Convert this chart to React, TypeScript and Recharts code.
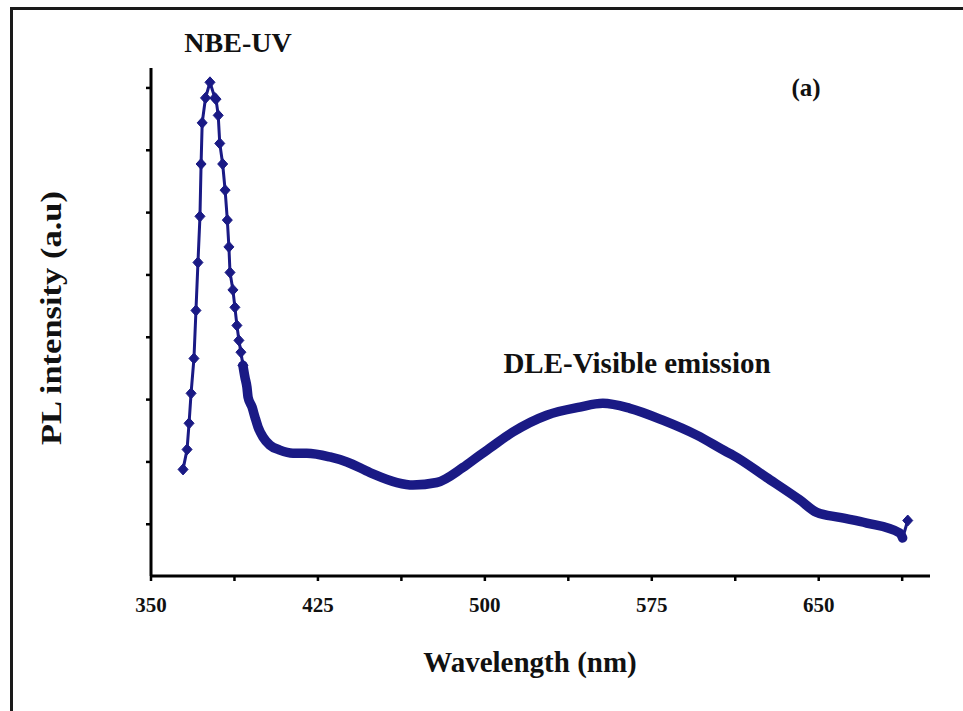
import React from 'react';
import { LineChart, Line, XAxis, YAxis } from 'recharts';

// UV (near-band-edge) peak, read point by point (nm, a.u.)
const uvWavelength = [364.4, 366.2, 367.1, 368.0, 369.3, 370.2, 371.1, 372.0, 372.5, 373.0, 374.5, 376.5, 378.7, 379.2, 380.2, 380.9, 382.2, 383.3, 384.3, 385.0, 385.5, 386.8, 387.7, 388.6, 389.5, 390.4, 391.3];
const uvIntensity = [188, 220, 262, 310, 366, 443, 520, 594, 678, 744, 784, 809, 784, 782, 756, 711, 678, 636, 588, 545, 504, 476, 448, 419, 395, 376, 355];

// Dense visible (defect-level) emission band
const visWavelength = [391.3, 392.2, 393.1, 393.6, 395.4, 396.7, 398.1, 400.3, 403.4, 407.9, 413.8, 420.0, 430.4, 438.0, 448.4, 460.5, 467.7, 478.4, 490.1, 497.8, 502.2, 512.6, 527.8, 542.7, 553.0, 565.1, 579.9, 595.2, 608.7, 611.4, 626.6, 641.5, 649.1, 659.4, 671.6, 686.4, 687.7];
const visIntensity = [355, 336, 320, 304, 288, 272, 256, 240, 227, 219, 214, 214, 208, 200, 183, 167, 163, 167, 191, 211, 222, 248, 275, 288, 294, 286, 267, 243, 216, 211, 175, 139, 119, 111, 102, 86, 78];

// final point of the record
const endWavelength = [687.7, 690.0];
const endIntensity = [78, 106];

const xTicks = [350, 387.5, 425, 462.5, 500, 537.5, 575, 612.5, 650, 687.5];
const xLabeled = [350, 425, 500, 575, 650];
const yTicks = [100, 200, 300, 400, 500, 600, 700, 800];

const COLOR = '#1a1a85';
const FONT = "'Liberation Serif', 'Times New Roman', Times, serif";

const zip = (xs: number[], ys: number[]) => xs.map((wl, i) => ({ wl, v: ys[i] }));
const uvData = zip(uvWavelength, uvIntensity);
const visData = zip(visWavelength, visIntensity);
const endData = zip(endWavelength, endIntensity);

const diamond = (cx: number, cy: number, key: string) => (
  <path key={key} d={`M${cx},${cy - 5.5}L${cx + 5},${cy}L${cx},${cy + 5.5}L${cx - 5},${cy}Z`} fill={COLOR} stroke={COLOR} strokeWidth={1} />
);

const UvDot = (props: any) => diamond(props.cx, props.cy, `uv-${props.index}`);
const EndDot = (props: any) =>
  props.index === endData.length - 1 ? diamond(props.cx, props.cy, `end-${props.index}`) : <g key={`end-${props.index}`} />;

const XTick = (props: any) => {
  const { x, y, payload } = props;
  if (!xLabeled.includes(payload.value)) return <g />;
  return (
    <text x={x} y={y + 29} textAnchor="middle" fontFamily={FONT} fontWeight="bold" fontSize={21} fill="#111">
      {payload.value}
    </text>
  );
};

const EmptyTick = () => <g />;

export default function App() {
  return (
    <div style={{ position: 'absolute', left: 0, top: 0, width: 963, height: 711, overflow: 'hidden', background: '#fff' }}>
      <div style={{ position: 'absolute', left: 10, top: 7, width: 1000, height: 1000, borderLeft: '3px solid #1a1a1a', borderTop: '3px solid #1a1a1a' }} />
      <div style={{ position: 'absolute', left: 0, top: 0 }}>
        <LineChart width={963} height={711} margin={{ top: 68, right: 33, bottom: 95, left: 91 }}>
          <XAxis
            type="number"
            dataKey="wl"
            domain={[350, 700]}
            ticks={xTicks}
            interval={0}
            allowDataOverflow
            height={40}
            axisLine={{ stroke: '#000', strokeWidth: 3 }}
            tickLine={{ stroke: '#000', strokeWidth: 2.5 }}
            tickSize={5}
            tick={<XTick />}
          />
          <YAxis
            type="number"
            domain={[17, 832]}
            ticks={yTicks}
            interval={0}
            allowDataOverflow
            width={60}
            axisLine={{ stroke: '#000', strokeWidth: 3 }}
            tickLine={{ stroke: '#000', strokeWidth: 2.5 }}
            tickSize={5}
            tick={<EmptyTick />}
          />
          <Line data={visData} dataKey="v" type="monotone" stroke={COLOR} strokeWidth={9.5} strokeLinejoin="round" strokeLinecap="round" dot={false} isAnimationActive={false} />
          <Line data={uvData} dataKey="v" type="linear" stroke={COLOR} strokeWidth={3} dot={UvDot} isAnimationActive={false} />
          <Line data={endData} dataKey="v" type="linear" stroke={COLOR} strokeWidth={3} dot={EndDot} isAnimationActive={false} />
        </LineChart>
      </div>
      <svg width={963} height={711} style={{ position: 'absolute', left: 0, top: 0, pointerEvents: 'none' }}>
        <g fontFamily={FONT} fontWeight="bold" fill="#111">
          <text x={238} y={52} fontSize={28} textAnchor="middle">NBE-UV</text>
          <text x={806} y={96} fontSize={25} textAnchor="middle">(a)</text>
          <text x={637} y={373} fontSize={29} textAnchor="middle">DLE-Visible emission</text>
          <text x={530} y={672} fontSize={29} textAnchor="middle">Wavelength (nm)</text>
          <text x={0} y={0} fontSize={29} textAnchor="middle" textLength={254} lengthAdjust="spacingAndGlyphs" transform="translate(61,318) rotate(-90)">PL intensity (a.u)</text>
        </g>
      </svg>
    </div>
  );
}
